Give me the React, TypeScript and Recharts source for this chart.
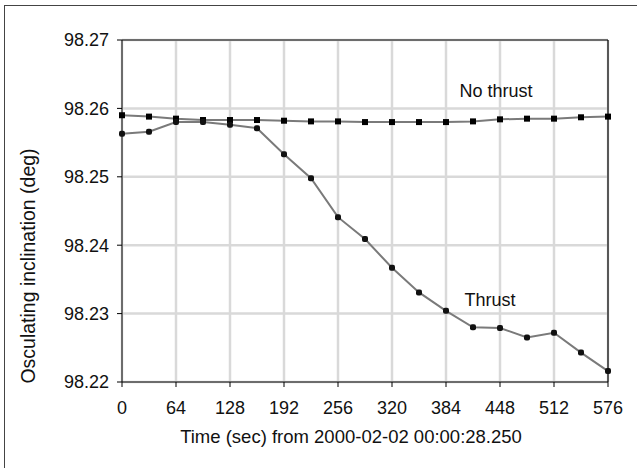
import React from "react";
import {
  LineChart,
  Line,
  XAxis,
  YAxis,
  CartesianGrid,
  ReferenceLine,
} from "recharts";

// sample times (s), one every 32 s
const times = [
  0, 32, 64, 96, 128, 160, 192, 224, 256, 288, 320, 352, 384, 416, 448, 480,
  512, 544, 576,
];

// osculating inclination (deg) without and with thrust
const noThrust = [
  98.259, 98.2588, 98.2585, 98.2583, 98.2583, 98.2583, 98.2582, 98.2581,
  98.2581, 98.258, 98.258, 98.258, 98.258, 98.2581, 98.2584, 98.2585, 98.2585,
  98.2587, 98.2588,
];
const thrust = [
  98.2563, 98.2566, 98.258, 98.258, 98.2576, 98.2571, 98.2533, 98.2498,
  98.2441, 98.2409, 98.2367, 98.2331, 98.2304, 98.228, 98.2279, 98.2265,
  98.2272, 98.2243, 98.2216,
];

const xTicks = [0, 64, 128, 192, 256, 320, 384, 448, 512, 576];
const yTicks = [98.22, 98.23, 98.24, 98.25, 98.26, 98.27];

const data = times.map((t, i) => ({
  t,
  noThrust: noThrust[i],
  thrust: thrust[i],
}));

const FONT = "Arial, 'Liberation Sans', sans-serif";

function SquareDot(props: any) {
  const { cx, cy, index } = props;
  if (cx == null || cy == null) return <g key={index} />;
  return <rect key={index} x={cx - 3} y={cy - 3} width={6} height={6} fill="#000" />;
}

function RoundDot(props: any) {
  const { cx, cy, index } = props;
  if (cx == null || cy == null) return <g key={index} />;
  return (
    <rect key={index} x={cx - 3} y={cy - 3} width={6} height={6} rx={2} fill="#111" />
  );
}

export default function App() {
  return (
    <div
      style={{
        position: "absolute",
        left: 0,
        top: 0,
        width: 637,
        height: 468,
        overflow: "hidden",
        background: "#fff",
      }}
    >
      {/* outer frame of the figure */}
      <div
        style={{
          position: "absolute",
          left: 4,
          top: 5,
          width: 700,
          height: 600,
          border: "1px solid #444",
        }}
      />
      <LineChart
        width={637}
        height={468}
        data={data}
        margin={{ top: 40, right: 29, bottom: 0, left: 0 }}
        style={{ position: "absolute", left: 0, top: 0 }}
      >
        <CartesianGrid
          stroke="#d9d9d9"
          strokeWidth={2.5}
          horizontalValues={yTicks}
          verticalValues={xTicks}
        />
        <XAxis
          dataKey="t"
          type="number"
          domain={[0, 576]}
          ticks={xTicks}
          height={86}
          stroke="#000"
          tickSize={5}
          tickMargin={14}
          tick={{ fontSize: 18, fill: "#111", fontFamily: FONT }}
          interval={0}
        />
        <YAxis
          type="number"
          domain={[98.22, 98.27]}
          ticks={yTicks}
          width={122}
          stroke="#000"
          tickSize={5}
          tickMargin={8}
          tickFormatter={(v: number) => v.toFixed(2)}
          tick={{ fontSize: 18, fill: "#111", fontFamily: FONT }}
          interval={0}
        />
        <ReferenceLine y={98.27} stroke="#000" strokeWidth={1.2} />
        <ReferenceLine x={576} stroke="#000" strokeWidth={1.2} />
        <Line
          dataKey="noThrust"
          stroke="#7a7a7a"
          strokeWidth={2}
          dot={SquareDot}
          activeDot={false}
          isAnimationActive={false}
        />
        <Line
          dataKey="thrust"
          stroke="#7a7a7a"
          strokeWidth={2}
          dot={RoundDot}
          activeDot={false}
          isAnimationActive={false}
        />
        <text
          x={496}
          y={97}
          textAnchor="middle"
          fontSize={18}
          fontFamily={FONT}
          fill="#111"
        >
          No thrust
        </text>
        <text
          x={490}
          y={306}
          textAnchor="middle"
          fontSize={18}
          fontFamily={FONT}
          fill="#111"
        >
          Thrust
        </text>
        <text
          x={351}
          y={443}
          textAnchor="middle"
          fontSize={18.5}
          fontFamily={FONT}
          fill="#111"
        >
          Time (sec) from 2000-02-02 00:00:28.250
        </text>
        <text
          x={35}
          y={266}
          textAnchor="middle"
          transform="rotate(-90 35 266)"
          fontSize={19.5}
          fontFamily={FONT}
          fill="#111"
        >
          Osculating inclination (deg)
        </text>
      </LineChart>
    </div>
  );
}
